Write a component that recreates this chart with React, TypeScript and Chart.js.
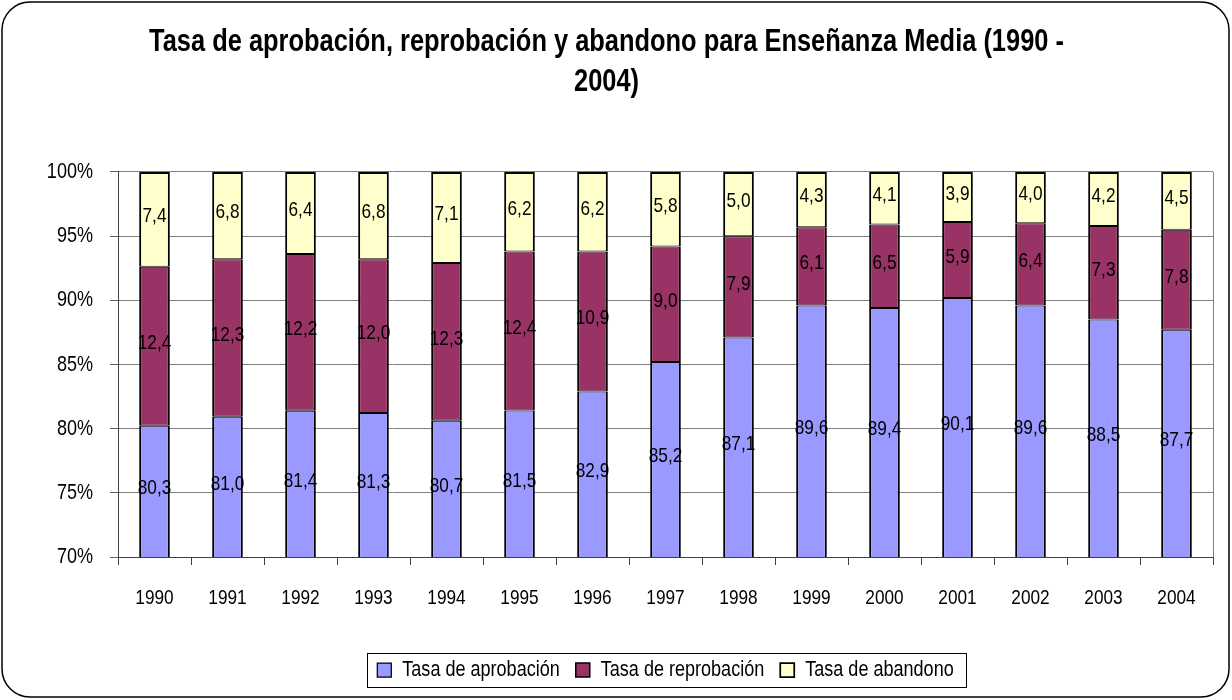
import React, { useEffect, useRef } from 'react';
import { Chart, registerables } from 'chart.js';

Chart.register(...registerables);

const years = ['1990', '1991', '1992', '1993', '1994', '1995', '1996', '1997', '1998', '1999', '2000', '2001', '2002', '2003', '2004'];
const aprobacion = [80.3, 81.0, 81.4, 81.3, 80.7, 81.5, 82.9, 85.2, 87.1, 89.6, 89.4, 90.1, 89.6, 88.5, 87.7];
const reprobacion = [12.4, 12.3, 12.2, 12.0, 12.3, 12.4, 10.9, 9.0, 7.9, 6.1, 6.5, 5.9, 6.4, 7.3, 7.8];
const abandono = [7.4, 6.8, 6.4, 6.8, 7.1, 6.2, 6.2, 5.8, 5.0, 4.3, 4.1, 3.9, 4.0, 4.2, 4.5];
const seriesNames = ['Tasa de aprobación', 'Tasa de reprobación', 'Tasa de abandono'];
const seriesColors = ['#9999FF', '#993366', '#FFFFCC'];
const titleLines = ['Tasa de aprobación, reprobación y abandono para Enseñanza Media (1990 -', '2004)'];
const yMin = 70;
const yMax = 100;
const yStep = 5;

const FONT = "'Liberation Sans', Arial, sans-serif";
const NARROW = 0.82; // horizontal condensing to imitate a narrow face

const rawSeries = [aprobacion, reprobacion, abandono];
const totals = years.map((_, i) => rawSeries.reduce((s, arr) => s + arr[i], 0));
const pct = (arr: number[]) => arr.map((v, i) => (v / totals[i]) * 100);
const borderWidths = [
  { top: 1, bottom: 0, left: 2, right: 2 },
  { top: 1, bottom: 1, left: 2, right: 2 },
  { top: 2, bottom: 1, left: 2, right: 2 },
];

const framePlugin = {
  id: 'frame',
  beforeDraw(chart: any) {
    const ctx = chart.ctx;
    const w = chart.width;
    const h = chart.height;
    ctx.save();
    ctx.fillStyle = '#ffffff';
    ctx.fillRect(0, 0, w, h);
    const x = 2, y = 2, rw = w - 5, rh = h - 5, r = 28;
    ctx.beginPath();
    ctx.moveTo(x + r, y);
    ctx.lineTo(x + rw - r, y);
    ctx.arcTo(x + rw, y, x + rw, y + r, r);
    ctx.lineTo(x + rw, y + rh - r);
    ctx.arcTo(x + rw, y + rh, x + rw - r, y + rh, r);
    ctx.lineTo(x + r, y + rh);
    ctx.arcTo(x, y + rh, x, y + rh - r, r);
    ctx.lineTo(x, y + r);
    ctx.arcTo(x, y, x + r, y, r);
    ctx.closePath();
    ctx.lineWidth = 1.5;
    ctx.strokeStyle = '#000000';
    ctx.stroke();
    ctx.restore();
  },
  beforeDatasetsDraw(chart: any) {
    const { ctx, chartArea } = chart;
    ctx.save();
    ctx.strokeStyle = '#808080';
    ctx.lineWidth = 1;
    ctx.beginPath();
    ctx.moveTo(Math.round(chartArea.right) + 0.5, chartArea.top);
    ctx.lineTo(Math.round(chartArea.right) + 0.5, chartArea.bottom);
    ctx.stroke();
    ctx.restore();
  },
  afterDraw(chart: any) {
    const legend = chart.legend;
    if (!legend || !legend.legendHitBoxes || !legend.legendHitBoxes.length) return;
    const hb = legend.legendHitBoxes;
    const left = hb[0].left - 10;
    const last = hb[hb.length - 1];
    const right = last.left + last.width + 13;
    const cy = hb[0].top + hb[0].height / 2;
    const ctx = chart.ctx;
    ctx.save();
    ctx.strokeStyle = '#000000';
    ctx.lineWidth = 1;
    ctx.strokeRect(Math.round(left) + 0.5, Math.round(cy - 17) + 0.5, Math.round(right - left), 34);
    ctx.restore();
  },
};

const labelPlugin = {
  id: 'segLabels',
  afterDatasetsDraw(chart: any) {
    const { ctx, chartArea } = chart;
    ctx.save();
    ctx.font = `21px ${FONT}`;
    ctx.fillStyle = '#000000';
    ctx.textAlign = 'center';
    ctx.textBaseline = 'middle';
    chart.data.datasets.forEach((ds: any, di: number) => {
      const meta = chart.getDatasetMeta(di);
      meta.data.forEach((el: any, i: number) => {
        const top = Math.max(Math.min(el.y, el.base), chartArea.top);
        const bottom = Math.min(Math.max(el.y, el.base), chartArea.bottom);
        if (bottom <= top) return;
        const txt = rawSeries[di][i].toFixed(1).replace('.', ',');
        ctx.fillText(txt, el.x, (top + bottom) / 2 - 3);
      });
    });
    ctx.restore();
  },
};

function condenseText(ctx: any) {
  const origFill = ctx.fillText.bind(ctx);
  const origMeasure = ctx.measureText.bind(ctx);
  ctx.fillText = (text: string, x: number, y: number, maxWidth?: number) => {
    ctx.save();
    ctx.translate(x, y);
    ctx.scale(NARROW, 1);
    if (maxWidth !== undefined) origFill(text, 0, 0, maxWidth / NARROW);
    else origFill(text, 0, 0);
    ctx.restore();
  };
  ctx.measureText = (text: string) => {
    const m = origMeasure(text);
    return {
      width: m.width * NARROW,
      actualBoundingBoxAscent: m.actualBoundingBoxAscent,
      actualBoundingBoxDescent: m.actualBoundingBoxDescent,
      actualBoundingBoxLeft: m.actualBoundingBoxLeft * NARROW,
      actualBoundingBoxRight: m.actualBoundingBoxRight * NARROW,
      fontBoundingBoxAscent: m.fontBoundingBoxAscent,
      fontBoundingBoxDescent: m.fontBoundingBoxDescent,
    };
  };
}

export default function App() {
  const canvasRef = useRef<HTMLCanvasElement | null>(null);

  useEffect(() => {
    const canvas = canvasRef.current;
    if (!canvas) return;
    const ctx = canvas.getContext('2d');
    condenseText(ctx);
    const chart = new Chart(canvas, {
      type: 'bar',
      data: {
        labels: years,
        datasets: rawSeries.map((arr, k) => ({
          label: seriesNames[k],
          data: pct(arr),
          backgroundColor: seriesColors[k],
          borderColor: '#000000',
          borderWidth: borderWidths[k],
          borderSkipped: false,
          barPercentage: 0.42,
          categoryPercentage: 1.0,
          clip: { left: 5, right: 5, top: 3, bottom: 0 },
        })),
      },
      options: {
        responsive: false,
        animation: false,
        events: [],
        layout: { padding: { left: 0, right: 19, top: 0, bottom: 9 } },
        plugins: {
          title: {
            display: true,
            text: titleLines,
            color: '#000000',
            font: { family: FONT, size: 31, weight: 'bold', lineHeight: 1.29 },
            padding: { top: 22, bottom: 70 },
          },
          legend: {
            display: true,
            position: 'bottom',
            fullSize: false,
            labels: {
              color: '#000000',
              font: { family: FONT, size: 22 },
              boxWidth: 14,
              boxHeight: 14,
              padding: 16,
            },
          },
          tooltip: { enabled: false },
        },
        scales: {
          x: {
            stacked: true,
            z: 1,
            grid: {
              display: true,
              offset: true,
              drawOnChartArea: false,
              drawTicks: true,
              tickLength: 8,
              color: '#404040',
            },
            border: { display: true, color: '#404040', width: 1 },
            ticks: {
              color: '#000000',
              font: { family: FONT, size: 21 },
              padding: 21,
              maxRotation: 0,
              autoSkip: false,
            },
            afterFit(scale: any) {
              scale.height = 86;
            },
          },
          y: {
            stacked: true,
            min: yMin,
            max: yMax,
            grid: {
              color: '#808080',
              tickColor: '#606060',
              tickLength: 8,
              drawTicks: true,
            },
            border: { display: true, color: '#404040', width: 1 },
            ticks: {
              stepSize: yStep,
              color: '#000000',
              font: { family: FONT, size: 22 },
              padding: 17,
              callback: (v: any) => `${v}%`,
            },
            afterFit(scale: any) {
              scale.width = 118;
            },
          },
        },
      },
      plugins: [framePlugin, labelPlugin],
    });
    return () => chart.destroy();
  }, []);

  return (
    <div style={{ position: 'absolute', left: 0, top: 0, width: 1232, height: 700 }}>
      <canvas ref={canvasRef} width={1232} height={700} style={{ display: 'block', width: 1232, height: 700 }} />
    </div>
  );
}
